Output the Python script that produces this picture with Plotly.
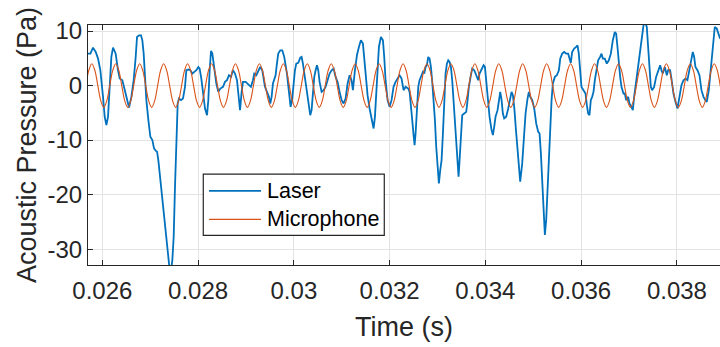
import plotly.graph_objs as go

# Laser signal (time in ms, pressure in Pa)
laser_t_ms = [
    25.690, 25.750, 25.805, 25.861, 25.910, 25.958, 26.014, 26.049, 26.084, 26.118,
    26.153, 26.188, 26.223, 26.278, 26.327, 26.362, 26.418, 26.466, 26.515, 26.557,
    26.606, 26.654, 26.696, 26.724, 26.766, 26.807, 26.835, 26.863, 26.891, 26.919,
    26.961, 27.002, 27.044, 27.079, 27.114, 27.142, 27.169, 27.211, 27.267, 27.322,
    27.371, 27.420, 27.462, 27.490, 27.517, 27.545, 27.573, 27.601, 27.643, 27.684,
    27.726, 27.754, 27.796, 27.838, 27.879, 27.921, 27.963, 28.005, 28.032, 28.067,
    28.102, 28.144, 28.186, 28.213, 28.241, 28.269, 28.297, 28.339, 28.380, 28.422,
    28.464, 28.520, 28.561, 28.603, 28.645, 28.687, 28.728, 28.770, 28.812, 28.840,
    28.875, 28.909, 28.937, 28.993,
    29.062, 29.103, 29.145, 29.173, 29.215, 29.257, 29.298, 29.340, 29.368, 29.396,
    29.438, 29.479, 29.507, 29.535, 29.563, 29.591, 29.618, 29.646, 29.674, 29.716,
    29.758, 29.799, 29.827, 29.855, 29.897, 29.932, 29.966, 29.994, 30.022, 30.050,
    30.092, 30.134, 30.161, 30.189, 30.224, 30.259, 30.301, 30.342, 30.370, 30.398,
    30.426, 30.454, 30.482, 30.509, 30.537, 30.579, 30.621, 30.662, 30.704, 30.746,
    30.788, 30.830, 30.871, 30.913, 30.955, 30.997, 31.038, 31.080, 31.122, 31.164,
    31.205, 31.233, 31.275, 31.317, 31.358, 31.400, 31.442, 31.470, 31.498, 31.539,
    31.581, 31.623, 31.665, 31.693, 31.720, 31.748, 31.776, 31.818, 31.860, 31.887,
    31.915, 31.957, 31.999, 32.040, 32.082, 32.124, 32.166, 32.207, 32.249, 32.291,
    32.333,
    32.389, 32.417, 32.444, 32.472, 32.500, 32.521, 32.542, 32.570, 32.598, 32.625,
    32.667, 32.695, 32.723, 32.751, 32.779, 32.806, 32.834, 32.862, 32.890, 32.918,
    32.946, 32.973, 33.001, 33.029, 33.057, 33.085, 33.113, 33.140, 33.168, 33.196,
    33.224, 33.252, 33.280, 33.307, 33.335, 33.363, 33.391, 33.419, 33.440, 33.461,
    33.488, 33.516, 33.558, 33.600, 33.628, 33.655, 33.697, 33.725, 33.767, 33.809,
    33.850, 33.878, 33.920, 33.962, 33.990, 34.017, 34.045, 34.087, 34.129, 34.157,
    34.184, 34.212, 34.254, 34.282, 34.310, 34.338, 34.365, 34.393, 34.435, 34.477,
    34.519, 34.546, 34.574, 34.602, 34.644, 34.686, 34.727, 34.769, 34.811, 34.839,
    34.880, 34.908, 34.936, 34.978, 35.020, 35.061, 35.103, 35.131, 35.159, 35.187,
    35.215, 35.242, 35.270, 35.298, 35.326, 35.354, 35.382, 35.409, 35.451, 35.493,
    35.535, 35.563, 35.604, 35.646, 35.688,
    35.729, 35.757, 35.784, 35.812, 35.854, 35.896, 35.924, 35.951, 35.979, 36.007,
    36.049, 36.091, 36.119, 36.146, 36.174, 36.202, 36.230, 36.258, 36.286, 36.313,
    36.355, 36.397, 36.425, 36.453, 36.494, 36.536, 36.578, 36.620, 36.661, 36.703,
    36.731, 36.759, 36.787, 36.815, 36.842, 36.884, 36.912, 36.940, 36.982, 37.009,
    37.051, 37.079, 37.107, 37.135, 37.176, 37.218, 37.260, 37.302, 37.337, 37.371,
    37.399, 37.427, 37.455, 37.483, 37.524, 37.566, 37.608, 37.650, 37.677, 37.705,
    37.747, 37.789, 37.817, 37.858, 37.886, 37.928, 37.970, 38.012, 38.053, 38.095,
    38.137, 38.179, 38.220, 38.262, 38.304, 38.332, 38.360, 38.387, 38.429, 38.471,
    38.513, 38.555, 38.596, 38.624, 38.666, 38.708, 38.749, 38.791, 38.833, 38.861,
    38.903,
]
laser_p = [
    5.85, 5.85, 6.95, 6.16, 4.94, 2.80, -2.07, -5.73, -7.26, -5.73,
    -0.24, 5.24, 6.95, 5.85, 2.80, 1.28, 0.98, -0.85, -2.99, -4.02,
    -2.07, 0.98, 5.24, 8.90, 9.21, 9.21, 8.29, 5.85, 1.59, -2.68,
    -6.34, -9.39, -10.00, -11.52, -11.95, -12.13, -13.66, -17.32, -22.20, -27.07,
    -30.73, -35.00, -31.95, -27.68, -18.54, -9.39, -3.29, -2.38, -2.68, -2.38,
    -0.24, 2.80, 2.93, 2.80, 2.20, 2.50, 2.80, 3.41, 3.11, 1.28,
    -1.46, -4.21, -5.43, -2.68, 2.80, 6.34, 5.85, 2.80, 0.37, -1.16,
    -0.55, -0.24, 0.67, 0.98, 1.89, 1.59, 2.80, 2.20, 0.98, -1.46,
    -4.51, -1.16, 0.67, 0.67,
    0.06, -0.24, 0.98, 2.20, 1.89, 2.80, 3.41, 2.80, 0.98, -0.24,
    -1.16, -2.07, -3.29, -2.07, 0.37, 1.28, 1.89, 4.02, 5.85, 6.46,
    6.46, 5.24, 4.02, 2.20, -1.16, -3.90, -2.38, 0.37, 2.80, 4.02,
    4.15, 5.12, 5.24, 4.02, 1.89, -0.24, -2.99, -5.43, -4.51, -1.46,
    1.59, 2.80, 3.72, 2.80, 0.67, -1.16, -0.85, -0.24, 0.98, 2.20,
    2.80, 3.11, 1.59, 0.67, -1.16, -2.68, -3.29, -2.38, 0.37, 1.89,
    0.98, -0.85, 2.80, 5.55, 7.07, 8.29, 7.68, 5.24, 1.59, -1.77,
    -4.21, -6.04, -7.87, -5.73, -1.46, 4.02, 7.07, 8.90, 8.29, 5.24,
    0.98, -2.68, -3.90, -2.68, -0.24, 0.67, 1.28, 1.89, 1.28, -0.85,
    -0.24,
    -0.55, -1.16, -3.29, -6.34, -9.09, -10.92, -8.78, -3.90, -0.24, 0.98,
    1.89, 2.50, 2.20, 3.41, 3.72, 5.24, 4.94, 3.41, 0.67, -2.68,
    -6.34, -11.22, -15.49, -17.93, -15.49, -13.66, -8.78, -2.07, 2.20, 4.02,
    4.63, 4.33, 3.41, 0.98, -2.68, -6.95, -11.83, -14.88, -16.71, -13.66,
    -8.78, -5.43, -5.12, -4.82, -2.68, -0.24, 1.89, 3.11, 2.80, 1.89,
    0.98, 2.20, 3.11, 3.72, 3.41, 0.98, -2.07, -5.73, -8.17, -9.09,
    -7.56, -5.73, -4.51, -2.68, -1.16, -2.68, -5.12, -6.04, -5.73, -4.21,
    -2.38, -1.16, -1.77, -3.90, -8.78, -13.66, -17.62, -14.27, -9.39, -5.12,
    -2.38, -1.16, -2.07, -2.68, -4.21, -6.95, -8.48, -8.78, -12.44, -17.32,
    -23.41, -27.38, -24.63, -18.54, -13.66, -8.17, -2.68, 0.37, 1.59, 1.89,
    2.80, 4.94, 5.85, 6.16, 5.85,
    5.85, 4.63, 4.15, 6.16, 6.77, 7.07, 7.38, 5.85, 2.20, -0.24,
    -0.85, -1.46, -3.60, -5.12, -5.43, -2.68, -2.07, -1.16, 0.98, 2.80,
    4.63, 5.24, 5.85, 4.94, 4.94, 4.02, 4.63, 5.85, 8.29, 9.82,
    9.51, 7.07, 4.02, 1.59, -0.24, -1.46, -1.46, -2.68, -2.07, -3.29,
    -3.90, -4.51, -2.07, -0.24, 2.80, 5.85, 8.29, 11.04, 11.60, 10.73,
    7.07, 2.80, -0.24, -0.85, -0.24, 1.59, 2.80, 3.72, 2.80, 2.20,
    3.41, 1.89, 2.80, 2.80, 1.28, -1.46, -2.99, -4.21, -2.07, 0.06,
    0.98, 1.28, 0.98, 2.80, 5.24, 6.16, 5.24, 3.41, 2.80, 1.89,
    -0.85, -2.07, -2.68, -2.99, -0.85, 2.80, 7.68, 10.73, 10.43, 9.82,
    8.60,
]

# Microphone signal, sampled every 1/8 of its period
mic_t0 = 0.025655
mic_dt = 0.0000625
mic_p = [
    0, 2.8, 4, 2.8, 0, -2.8, -4, -2.8,
    0, 2.8, 4, 2.8, 0, -2.8, -4, -2.8,
    0, 2.8, 4, 2.8, 0, -2.8, -4, -2.8,
    0, 2.8, 4, 2.8, 0, -2.8, -4, -2.8,
    0, 2.8, 4, 2.8, 0, -2.8, -4, -2.8,
    0, 2.8, 4, 2.8, 0, -2.8, -4, -2.8,
    0, 2.8, 4, 2.8, 0, -2.8, -4, -2.8,
    0, 2.8, 4, 2.8, 0, -2.8, -4, -2.8,
    0, 2.8, 4, 2.8, 0, -2.8, -4, -2.8,
    0, 2.8, 4, 2.8, 0, -2.8, -4, -2.8,
    0, 2.8, 4, 2.8, 0, -2.8, -4, -2.8,
    0, 2.8, 4, 2.8, 0, -2.8, -4, -2.8,
    0, 2.8, 4, 2.8, 0, -2.8, -4, -2.8,
    0, 2.8, 4, 2.8, 0, -2.8, -4, -2.8,
    0, 2.8, 4, 2.8, 0, -2.8, -4, -2.8,
    0, 2.8, 4, 2.8, 0, -2.8, -4, -2.8,
    0, 2.8, 4, 2.8, 0, -2.8, -4, -2.8,
    0, 2.8, 4, 2.8, 0, -2.8, -4, -2.8,
    0, 2.8, 4, 2.8, 0, -2.8, -4, -2.8,
    0, 2.8, 4, 2.8, 0, -2.8, -4, -2.8,
    0, 2.8, 4, 2.8, 0, -2.8, -4, -2.8,
    0, 2.8, 4, 2.8, 0, -2.8, -4, -2.8,
    0, 2.8, 4, 2.8, 0, -2.8, -4, -2.8,
    0, 2.8, 4, 2.8, 0, -2.8, -4, -2.8,
    0, 2.8, 4, 2.8, 0, -2.8, -4, -2.8,
    0, 2.8, 4, 2.8, 0, -2.8, -4, -2.8,
    0, 2.8, 4, 2.8, 0, -2.8, -4, -2.8,
]

x_ticks = [0.026, 0.028, 0.030, 0.032, 0.034, 0.036, 0.038]
x_ticklabels = ['0.026', '0.028', '0.03', '0.032', '0.034', '0.036', '0.038']
y_ticks = [-30, -20, -10, 0, 10]
y_ticklabels = ['-30', '-20', '-10', '0', '10']
series_names = ['Laser', 'Microphone']

blue = '#0072BD'
orange = '#D95319'
ink = '#262626'
font = 'Liberation Sans, Arial, sans-serif'

fig = go.Figure()
fig.add_trace(go.Scatter(x=[t / 1000 for t in laser_t_ms], y=laser_p, mode='lines',
                         name=series_names[0], line=dict(color=blue, width=1.8)))
fig.add_trace(go.Scatter(x0=mic_t0, dx=mic_dt, y=mic_p, mode='lines',
                         name=series_names[1], line=dict(color=orange, width=1.1, shape='spline')))

# MATLAB style legend box drawn by hand
lx0, lx1, ly0, ly1 = 0.1824, 0.4688, 0.1236, 0.3787
shapes = [dict(type='rect', xref='paper', yref='paper', x0=lx0, x1=lx1, y0=ly0, y1=ly1,
               fillcolor='white', line=dict(color=ink, width=1.2))]
annotations = []
for name, color, yy in [(series_names[0], blue, 0.3092), (series_names[1], orange, 0.1902)]:
    shapes.append(dict(type='line', xref='paper', yref='paper', x0=0.1915, x1=0.2737, y0=yy, y1=yy,
                       line=dict(color=color, width=1.8 if color == blue else 1.1)))
    annotations.append(dict(xref='paper', yref='paper', x=0.2805, y=yy, text=name, showarrow=False,
                            xanchor='left', yanchor='middle', font=dict(family=font, size=21.5, color='black')))

fig.update_layout(
    width=720, height=347,
    margin=dict(l=88, r=0, t=25, b=82),
    paper_bgcolor='white', plot_bgcolor='white',
    showlegend=False,
    shapes=shapes,
    annotations=annotations,
    font=dict(family=font, color=ink),
    xaxis=dict(range=[0.0257, 0.0389], tickvals=x_ticks, ticktext=x_ticklabels,
               showgrid=True, gridcolor='#e3e3e3', gridwidth=1, zeroline=False,
               showline=True, linecolor=ink, linewidth=1.2, mirror='ticks',
               ticks='inside', ticklen=5, tickcolor=ink, ticklabelstandoff=4,
               tickfont=dict(size=24, color=ink),
               title=dict(text='Time (s)', font=dict(size=27, color=ink), standoff=14)),
    yaxis=dict(range=[-32.9, 11.1], tickvals=y_ticks, ticktext=y_ticklabels,
               showgrid=True, gridcolor='#e3e3e3', gridwidth=1, zeroline=False,
               showline=True, linecolor=ink, linewidth=1.2, mirror=False,
               ticks='inside', ticklen=5, tickcolor=ink,
               tickfont=dict(size=24, color=ink),
               title=dict(text='Acoustic Pressure (Pa)', font=dict(size=27, color=ink), standoff=2)),
)

fig.write_html("out.html", config={'displayModeBar': False},
               post_script="document.body.style.margin='0';document.body.style.overflow='hidden';")
